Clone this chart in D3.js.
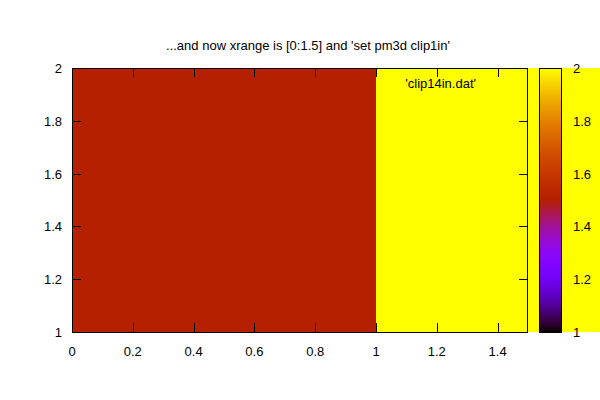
<!DOCTYPE html>
<html><head><meta charset="utf-8">
<script src="https://cdn.jsdelivr.net/npm/d3@7"></script>
<style>body{margin:0;background:#fff}svg{display:block}text{font-family:"Liberation Sans",Arial,sans-serif;font-size:13px;fill:#000}</style>
</head><body>
<svg id="c" width="600" height="400"></svg>
<script>
const title = "...and now xrange is [0:1.5] and 'set pm3d clip1in'";
const keyLabel = "'clip14in.dat'";
const cellX0 = [0, 1];
const cellX1 = [1, 2];
const cellZ = [1.5, 2];
const yRange = [1, 2];
const xTicks = [0, 0.2, 0.4, 0.6, 0.8, 1, 1.2, 1.4];
const yTicks = [1, 1.2, 1.4, 1.6, 1.8, 2];
const cbTicks = [1, 1.2, 1.4, 1.6, 1.8, 2];

const svg = d3.select("#c");
const L = 72, R = 528, T = 68, B = 332;
const x = d3.scaleLinear().domain([0, 1.5]).range([L, R]);
const y = d3.scaleLinear().domain(yRange).range([B, T]);
const cb = d3.scaleLinear().domain([1, 2]).range([B, T]);
function pal(v) {
  const t = Math.max(0, Math.min(1, (v - 1)));
  const r = Math.sqrt(t), g = t * t * t, b = Math.max(0, Math.sin(2 * Math.PI * t));
  return d3.rgb(r * 255, g * 255, b * 255).toString();
}
const cells = cellZ.map((z, i) => ({x0: cellX0[i], x1: cellX1[i], z}));
svg.append("g").selectAll("rect").data(cells).join("rect")
  .attr("x", d => x(d.x0)).attr("width", d => x(d.x1) - x(d.x0))
  .attr("y", y(yRange[1])).attr("height", y(yRange[0]) - y(yRange[1]))
  .attr("fill", d => pal(d.z)).attr("shape-rendering", "crispEdges");

svg.append("rect").attr("x", L + 0.5).attr("y", T + 0.5).attr("width", R - L - 1).attr("height", B - T)
  .attr("fill", "none").attr("stroke", "#000");
const tl = 9;
const g = svg.append("g").attr("stroke", "#000").attr("shape-rendering", "crispEdges");
xTicks.forEach(v => {
  const px = Math.round(x(v)) + 0.5;
  g.append("line").attr("x1", px).attr("x2", px).attr("y1", B).attr("y2", B - tl);
  g.append("line").attr("x1", px).attr("x2", px).attr("y1", T).attr("y2", T + tl);
});
yTicks.forEach(v => {
  const py = Math.round(y(v)) + 0.5;
  g.append("line").attr("x1", L).attr("x2", L + tl).attr("y1", py).attr("y2", py);
  g.append("line").attr("x1", R).attr("x2", R - tl).attr("y1", py).attr("y2", py);
});
svg.append("g").selectAll("text").data(xTicks).join("text")
  .attr("x", d => x(d)).attr("y", 356).attr("text-anchor", "middle").text(d => d);
svg.append("g").selectAll("text").data(yTicks).join("text")
  .attr("x", 62).attr("y", d => y(d) + 5).attr("text-anchor", "end").text(d => d);

const CL = 539, CR = 562;
const defs = svg.append("defs");
const grad = defs.append("linearGradient").attr("id", "gr").attr("x1", 0).attr("x2", 0).attr("y1", 1).attr("y2", 0);
d3.range(0, 1.0001, 0.02).forEach(t => grad.append("stop").attr("offset", t).attr("stop-color", pal(1 + t)));
svg.append("rect").attr("x", CL).attr("y", T).attr("width", CR - CL).attr("height", B - T).attr("fill", "url(#gr)");
svg.append("rect").attr("x", CL + 0.5).attr("y", T + 0.5).attr("width", CR - CL - 1).attr("height", B - T)
  .attr("fill", "none").attr("stroke", "#000");
cbTicks.forEach(v => {
  const py = Math.round(cb(v)) + 0.5;
  g.append("line").attr("x1", CL).attr("x2", CL + 6).attr("y1", py).attr("y2", py);
  g.append("line").attr("x1", CR).attr("x2", CR - 6).attr("y1", py).attr("y2", py);
});
svg.append("g").selectAll("text").data(cbTicks).join("text")
  .attr("x", 573).attr("y", d => cb(d) + 5).attr("text-anchor", "start").text(d => d);

svg.append("text").attr("x", 308).attr("y", 50).attr("text-anchor", "middle").text(title);
svg.append("text").attr("x", 476).attr("y", 88).attr("text-anchor", "end").text(keyLabel);
</script>
</body></html>
